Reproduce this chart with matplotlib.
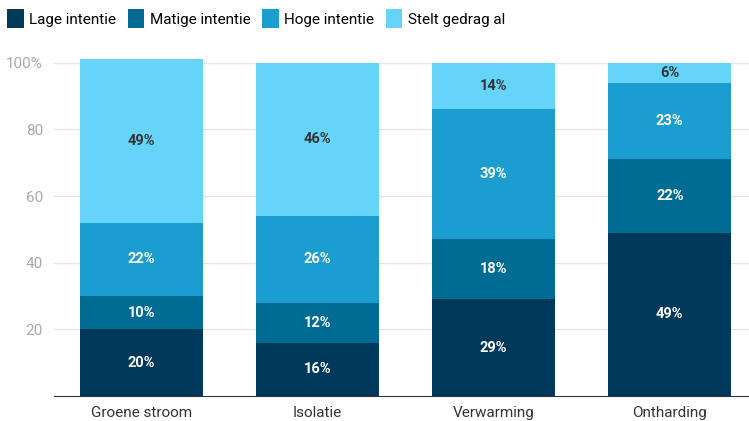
import matplotlib.pyplot as plt
import numpy as np

plt.rcParams['font.family'] = ['Roboto', 'DejaVu Sans']

categories = ['Groene stroom', 'Isolatie', 'Verwarming', 'Ontharding']
series_names = ['Lage intentie', 'Matige intentie', 'Hoge intentie', 'Stelt gedrag al']
lage = [20, 16, 29, 49]
matige = [10, 12, 18, 22]
hoge = [22, 26, 39, 23]
stelt = [49, 46, 14, 6]
yticks = [20, 40, 60, 80, 100]
ytick_labels = ['20', '40', '60', '80', '100%']

colors = ['#00395a', '#006b93', '#1b9ecf', '#66d4f8']
text_colors = ['white', 'white', 'white', '#333333']

fig = plt.figure(figsize=(7.49, 4.21), dpi=100)
ax = fig.add_axes([54 / 749, 25 / 421, 695 / 749, 340 / 421])

x = np.arange(len(categories))
bottom = np.zeros(len(categories))
for name, vals, col, tcol in zip(series_names, [lage, matige, hoge, stelt], colors, text_colors):
    vals = np.array(vals, dtype=float)
    ax.bar(x, vals, bottom=bottom, width=0.7, color=col, label=name, zorder=2)
    for xi, b, v in zip(x, bottom, vals):
        ax.text(xi, b + v / 2, f'{int(v)}%', ha='center', va='center',
                color=tcol, fontsize=10.5, fontweight='bold', zorder=3)
    bottom += vals

ax.set_xlim(-0.497, 3.45)
ax.set_ylim(0, 102)
ax.set_yticks(yticks)
ax.set_yticklabels(ytick_labels)
ax.set_xticks(x)
ax.set_xticklabels(categories)
ax.grid(axis='y', color='#e6e6e6', linewidth=1, zorder=0)
for s in ['top', 'right', 'left']:
    ax.spines[s].set_visible(False)
ax.spines['bottom'].set_color('#333333')
ax.tick_params(axis='y', length=0, pad=8, labelcolor='#aaaaaa', labelsize=11)
ax.tick_params(axis='x', length=0, pad=7, labelcolor='#333333', labelsize=11)

fig.legend(loc='upper left', bbox_to_anchor=(-0.003, 1.0), ncol=4, frameon=False,
           fontsize=11, handlelength=1.1, handleheight=1.5, handletextpad=0.35,
           columnspacing=0.75, borderaxespad=0.2)

fig.savefig('out.png', dpi=100)
